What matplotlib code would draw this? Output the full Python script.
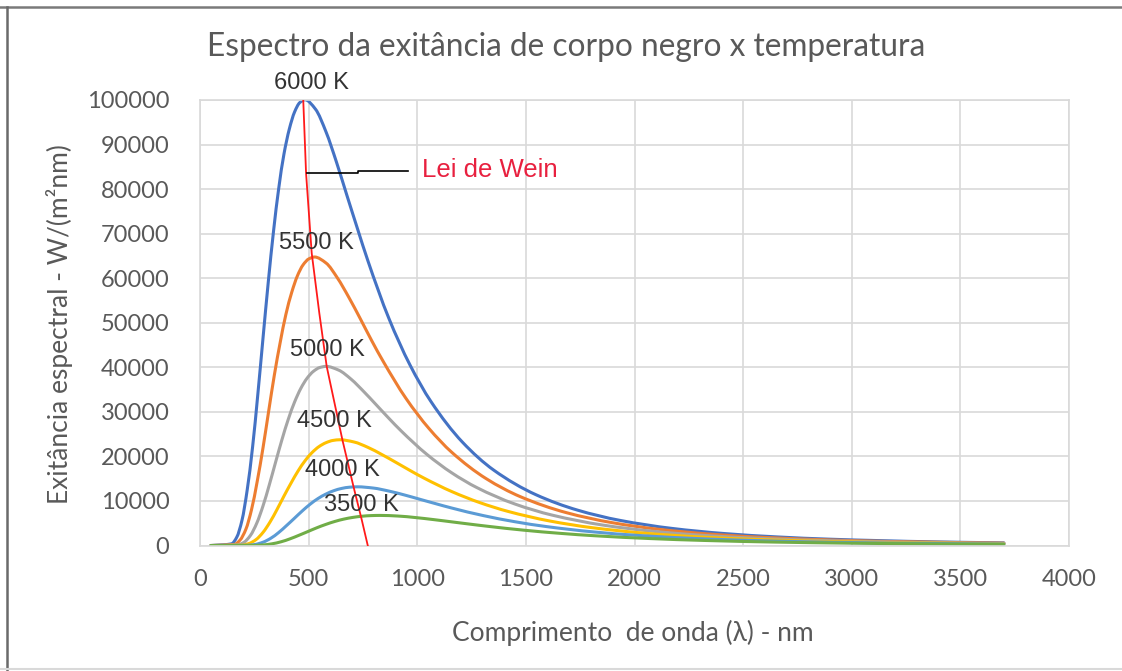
import numpy as np
import matplotlib.pyplot as plt
from matplotlib.lines import Line2D
from matplotlib.path import Path
from matplotlib.patches import PathPatch

# spectral exitance, W/(m^2 nm) against wavelength in nm
wl_6000 = [50, 145, 169, 193, 217, 242, 266, 290, 314, 338, 362, 386, 411, 435, 459, 483, 531, 580, 628,
           676, 725, 773, 869, 966, 1063, 1208, 1352, 1546, 1739, 1932, 2174, 2415, 2657, 2898, 3381, 3700]
ex_6000 = [0, 380, 1872, 5656, 12466, 22191, 33977, 46663, 59120, 70465, 80110, 87804, 93497, 97299, 99410,
           100050, 97959, 92816, 86043, 78589, 71056, 63852, 51005, 40560, 32306, 23192, 16918, 11406, 7924,
           5653, 3831, 2681, 1929, 1422, 821, 592]

wl_5500 = [50, 158, 184, 211, 237, 263, 290, 316, 342, 369, 395, 422, 448, 474, 501, 527, 580, 632, 685,
           738, 790, 843, 948, 1054, 1159, 1317, 1475, 1686, 1897, 2108, 2371, 2635, 2898, 3161, 3700]
ex_5500 = [0, 246, 1212, 3661, 8069, 14363, 21992, 30203, 38265, 45608, 51851, 56831, 60515, 62976, 64343,
           64757, 63404, 60075, 55691, 50867, 45990, 41328, 33013, 26252, 20910, 15011, 10950, 7382, 5129,
           3659, 2480, 1736, 1249, 920, 525]

wl_5000 = [50, 174, 203, 232, 261, 290, 319, 348, 377, 406, 435, 464, 493, 522, 551, 580, 638, 696, 753,
           811, 869, 927, 1043, 1159, 1275, 1449, 1623, 1855, 2087, 2318, 2608, 2898, 3188, 3478, 3700]
ex_5000 = [0, 153, 752, 2273, 5010, 8918, 13655, 18753, 23760, 28319, 32195, 35287, 37575, 39103, 39952,
           40209, 39369, 37302, 34580, 31584, 28556, 25661, 20499, 16301, 12983, 9320, 6799, 4584, 3185,
           2272, 1540, 1078, 775, 571, 459]

wl_4500 = [50, 193, 225, 258, 290, 322, 354, 386, 419, 451, 483, 515, 547, 580, 612, 644, 708, 773, 837,
           902, 966, 1030, 1159, 1288, 1417, 1610, 1803, 2061, 2318, 2576, 2898, 3220, 3542, 3700]
ex_4500 = [0, 90, 444, 1342, 2958, 5266, 8063, 11073, 14029, 16721, 19009, 20835, 22186, 23088, 23589,
           23741, 23245, 22025, 20417, 18649, 16861, 15152, 12103, 9625, 7666, 5503, 4015, 2706, 1880,
           1341, 909, 636, 458, 393]

wl_4000 = [50, 217, 254, 290, 326, 362, 398, 435, 471, 507, 543, 580, 616, 652, 688, 725, 797, 869, 942,
           1014, 1087, 1159, 1304, 1449, 1594, 1811, 2029, 2318, 2608, 2898, 3260, 3623, 3700]
ex_4000 = [0, 50, 247, 745, 1642, 2922, 4475, 6145, 7786, 9280, 10550, 11563, 12313, 12814, 13092,
           13176, 12901, 12223, 11331, 10350, 9358, 8409, 6717, 5342, 4255, 3054, 2228, 1502, 1044,
           744, 505, 353, 328]

wl_3500 = [50, 248, 290, 331, 373, 414, 455, 497, 538, 580, 621, 662, 704, 745, 787, 828, 911, 993, 1076,
           1159, 1242, 1325, 1490, 1656, 1821, 2070, 2318, 2649, 2980, 3312, 3700]
ex_3500 = [0, 26, 126, 382, 842, 1499, 2295, 3152, 3993, 4760, 5411, 5931, 6315, 6572, 6715, 6758,
           6617, 6269, 5812, 5308, 4800, 4313, 3445, 2740, 2182, 1567, 1143, 770, 535, 382, 265]

# hand drawn Wien line and its leader
wien_wl = [475, 488, 514, 549, 583, 655, 706, 744, 772]
wien_ex = [100000, 83530, 65600, 52150, 40190, 23760, 13290, 5830, 0]
leader_wl = [491, 729, 729, 959]
leader_ex = [83530, 83530, 84040, 84040]

temp_labels = ["6000 K", "5500 K", "5000 K", "4500 K", "4000 K", "3500 K"]
label_wl = [511, 534, 585, 617, 654, 741]
label_ex = [103880, 67910, 43930, 28010, 17030, 9190]

x_ticks = [0, 500, 1000, 1500, 2000, 2500, 3000, 3500, 4000]
y_ticks = [0, 10000, 20000, 30000, 40000, 50000, 60000, 70000, 80000, 90000, 100000]

series = [(wl_6000, ex_6000, "#4472c4"),
          (wl_5500, ex_5500, "#ed7d31"),
          (wl_5000, ex_5000, "#a5a5a5"),
          (wl_4500, ex_4500, "#ffc000"),
          (wl_4000, ex_4000, "#5b9bd5"),
          (wl_3500, ex_3500, "#70ad47")]

calibri = ["Lato", "DejaVu Sans"]
grey = "#595959"


def smooth_path(xs, ys):
    # "smoothed line" like the spreadsheet: cubic bezier through the points,
    # monotone tangents so nothing overshoots
    x = np.asarray(xs, float)
    y = np.asarray(ys, float)
    h = np.diff(x)
    d = np.diff(y) / h
    m = np.zeros_like(x)
    m[0], m[-1] = d[0], d[-1]
    for k in range(1, len(x) - 1):
        if d[k - 1] * d[k] <= 0:
            m[k] = 0.0
        else:
            w1 = 2 * h[k] + h[k - 1]
            w2 = h[k] + 2 * h[k - 1]
            m[k] = (w1 + w2) / (w1 / d[k - 1] + w2 / d[k])
    verts = [(x[0], y[0])]
    codes = [Path.MOVETO]
    for k in range(len(h)):
        verts += [(x[k] + h[k] / 3, y[k] + m[k] * h[k] / 3),
                  (x[k + 1] - h[k] / 3, y[k + 1] - m[k + 1] * h[k] / 3),
                  (x[k + 1], y[k + 1])]
        codes += [Path.CURVE4] * 3
    return Path(verts, codes)


fig = plt.figure(figsize=(11.22, 6.71), dpi=100)
ax = fig.add_axes([0.1783, 0.187, 0.7745, 0.664])

for xs, ys, c in series:
    ax.add_patch(PathPatch(smooth_path(xs, ys), fill=False, edgecolor=c, lw=2.2,
                           capstyle="round", joinstyle="round"))

ax.plot(wien_wl, wien_ex, color="#ff1a1a", lw=1.3, zorder=5)
ax.plot(leader_wl, leader_ex, color="black", lw=1.2, zorder=5)
ax.text(1020, 84200, "Lei de Wein", color="#e8203f", fontsize=18.5,
        family="Liberation Sans", va="center", ha="left")

for t, lx, ly in zip(temp_labels, label_wl, label_ex):
    ax.text(lx, ly, t, color="#333333", fontsize=17, family="Liberation Sans",
            ha="center", va="center", zorder=6, clip_on=False)

ax.set_xlim(0, 4000)
ax.set_ylim(0, 100000)
ax.set_xticks(x_ticks)
ax.set_yticks(y_ticks)
ax.set_xticklabels([str(v) for v in x_ticks], family=calibri)
ax.set_yticklabels([str(v) for v in y_ticks], family=calibri)
ax.tick_params(length=0, labelsize=17, colors=grey)
ax.tick_params(axis="y", pad=22)
ax.tick_params(axis="x", pad=17)
ax.grid(color="#d9d9d9", lw=1.2)
ax.set_axisbelow(True)
for s in ax.spines.values():
    s.set_color("#d9d9d9")
    s.set_linewidth(1.2)

ax.set_xlabel("Comprimento  de onda (λ) - nm", fontsize=19, color=grey, family=calibri)
ax.xaxis.set_label_coords(0.498, -0.168)
ax.set_ylabel("Exitância espectral - W/(m²nm)", fontsize=19, color=grey, family=calibri)
ax.yaxis.set_label_coords(-0.146, 0.496)

fig.text(0.5045, 0.93, "Espectro da exitância de corpo negro x temperatura",
         fontsize=22.8, color=grey, family=calibri, ha="center", va="center")

# picture frame
fig.add_artist(Line2D([0, 1], [0.9903, 0.9903], color="#7a7a7a", lw=1.8))
fig.add_artist(Line2D([0.0058, 0.0058], [0, 0.9903], color="#6a6a6a", lw=1.8))
fig.add_artist(Line2D([0, 1], [0.003, 0.003], color="#d9d9d9", lw=1.5))

fig.savefig("out.png", dpi=100)
